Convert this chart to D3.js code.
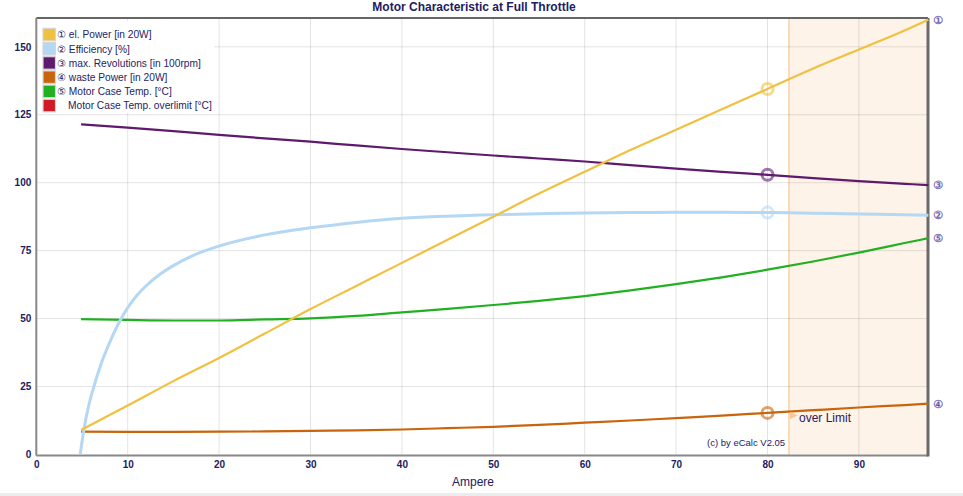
<!DOCTYPE html>
<html><head><meta charset="utf-8">
<script src="https://cdn.jsdelivr.net/npm/d3@7"></script>
<style>
html,body{margin:0;padding:0;background:#fff;}
svg{display:block;font-family:"Liberation Sans",Arial,sans-serif;}
</style></head>
<body>
<svg id="c" width="963" height="496"></svg>
<script>
// ---- data ----
const title = "Motor Characteristic at Full Throttle";
const xTicks = [0,10,20,30,40,50,60,70,80,90];
const yTicks = [0,25,50,75,100,125,150];
const amps = [4.9,10,15,20,25,30,35,40,45,50,55,60,65,70,75,80,85,90,95,97.6];
const power = [9,18,27,35.5,44.5,53.5,62,70.5,79,87.5,96,104,112,119.5,127,134.5,142,149,156,160];
const revs = [121.5,120.3,119,117.6,116.3,115.1,113.7,112.4,111.2,110,108.9,107.8,106.5,105.2,104,102.9,101.7,100.6,99.6,99.1];
const waste = [8.4,8.3,8.3,8.4,8.5,8.7,8.9,9.2,9.7,10.2,10.9,11.7,12.5,13.4,14.3,15.3,16.3,17.3,18.2,18.7];
const temp = [49.8,49.5,49.3,49.3,49.7,50.1,51,52.3,53.6,55,56.5,58.3,60.4,62.7,65.2,68,71,74.3,77.8,79.6];
const effAmps = [4.8,5.2,5.7,6.3,7,8,9.2,10,11,12,13.6,15,17.2,20,25,30,35,40,45,50,55,60,65,70,75,80,85,90,95,97.6];
const eff = [0,9,17.5,25,32.5,41,49.5,54,58.5,62,66.5,69.5,73.3,76.7,80.8,83.4,85.4,86.9,87.7,88.2,88.6,88.9,89,89.1,89.1,89,88.8,88.5,88.2,88];
const limitAmp = 82.35;
const markerAmp = 80;
const legendItems = ["① el. Power [in 20W]","② Efficiency [%]","③ max. Revolutions [in 100rpm]","④ waste Power [in 20W]","⑤ Motor Case Temp. [°C]","Motor Case Temp. overlimit [°C]"];
const legendColors = ["#f0c040","#b4d8f4","#5e1a6c","#c8640c","#22b022","#d01a24"];

// ---- setup ----
const svg = d3.select("#c");
const x = d3.scaleLinear().domain([0,97.56]).range([36.3,928]);
const y = d3.scaleLinear().domain([0,160.6]).range([454.5,18]);
const [x0,x1] = x.range(), [yb,yt] = y.range();
const navy = "#1c2060";

// bottom strip
svg.append("rect").attr("x",0).attr("y",493).attr("width",963).attr("height",3).attr("fill","#ececec");

// over limit shade
svg.append("rect").attr("x",x(limitAmp)).attr("y",yt).attr("width",x1-x(limitAmp)).attr("height",yb-yt).attr("fill","#fdf3e8");
svg.append("line").attr("x1",x(limitAmp)).attr("x2",x(limitAmp)).attr("y1",yt).attr("y2",yb).attr("stroke","#fbd0a4").attr("stroke-width",1.5);

// grid
svg.append("g").selectAll("line").data(xTicks.filter(d=>d>0)).join("line")
  .attr("x1",d=>x(d)).attr("x2",d=>x(d)).attr("y1",yt).attr("y2",yb)
  .attr("stroke","#000").attr("stroke-opacity",0.11).attr("stroke-width",1);
svg.append("g").selectAll("line").data(yTicks.filter(d=>d>0)).join("line")
  .attr("x1",x0).attr("x2",x1).attr("y1",d=>y(d)).attr("y2",d=>y(d))
  .attr("stroke","#000").attr("stroke-opacity",0.11).attr("stroke-width",1);

// legend background
svg.append("rect").attr("x",38).attr("y",21).attr("width",176).attr("height",92).attr("fill","#fff");

// axes (labels via d3 axes)
const xAxis = d3.axisBottom(x).tickValues(xTicks).tickSize(0).tickPadding(6).tickFormat(d3.format("d"));
const gx = svg.append("g").attr("transform",`translate(0,${yb})`).call(xAxis);
gx.select(".domain").remove();
gx.selectAll("text").attr("font-size",10).attr("font-weight","bold").attr("fill",navy).attr("font-family","Liberation Sans, Arial, sans-serif");
const yAxis = d3.axisLeft(y).tickValues(yTicks).tickSize(0).tickPadding(5).tickFormat(d3.format("d"));
const gy = svg.append("g").attr("transform",`translate(${x0},0)`).call(yAxis);
gy.select(".domain").remove();
gy.selectAll("text").attr("font-size",10).attr("font-weight","bold").attr("fill",navy).attr("font-family","Liberation Sans, Arial, sans-serif");

// frame
svg.append("line").attr("x1",x0).attr("x2",x1).attr("y1",yt).attr("y2",yt).attr("stroke","#666").attr("stroke-width",2);
svg.append("line").attr("x1",x0).attr("x2",x0).attr("y1",yt).attr("y2",yb+1).attr("stroke","#888").attr("stroke-width",2);
svg.append("line").attr("x1",x0).attr("x2",x1).attr("y1",yb+1).attr("y2",yb+1).attr("stroke","#888").attr("stroke-width",2);
svg.append("line").attr("x1",x1).attr("x2",x1).attr("y1",yt).attr("y2",yb+2).attr("stroke","#6a6a6a").attr("stroke-width",3);

// series
const line = d3.line().curve(d3.curveMonotoneX).x(d=>x(d[0])).y(d=>y(d[1]));
const series = [
  {xs:amps, ys:waste, c:"#c8640c", w:2.2},
  {xs:amps, ys:temp, c:"#22b022", w:2.2},
  {xs:effAmps, ys:eff, c:"#b4d8f4", w:3},
  {xs:amps, ys:revs, c:"#5e1a6c", w:2.2},
  {xs:amps, ys:power, c:"#f0c040", w:2.2}
];
series.forEach(s=>{
  svg.append("path").datum(s.xs.map((a,i)=>[a,s.ys[i]]))
    .attr("d",line).attr("fill","none").attr("stroke",s.c).attr("stroke-width",s.w).attr("stroke-linejoin","round");
});

// markers at 80 A
const mi = amps.indexOf(markerAmp);
const ei = effAmps.indexOf(markerAmp);
const markers = [
  {v:power[mi], c:"#f0c040"},
  {v:revs[mi], c:"#5e1a6c"},
  {v:eff[ei], c:"#b4d8f4"},
  {v:waste[mi], c:"#c8640c"}
];
svg.append("g").selectAll("circle").data(markers).join("circle")
  .attr("cx",x(markerAmp)).attr("cy",d=>y(d.v)).attr("r",5.5)
  .attr("fill","none").attr("stroke",d=>d.c).attr("stroke-opacity",0.6).attr("stroke-width",3);

// right-side circled labels
const ends = [
  {t:"①", v:power[power.length-1]},
  {t:"③", v:revs[revs.length-1]},
  {t:"②", v:eff[eff.length-1]},
  {t:"⑤", v:temp[temp.length-1]},
  {t:"④", v:waste[waste.length-1]}
];
svg.append("g").selectAll("text").data(ends).join("text")
  .attr("x",x1+10).attr("y",d=>y(d.v)+4).attr("text-anchor","middle")
  .attr("font-size",11).attr("font-family","DejaVu Sans, sans-serif").attr("fill","#3a2e80")
  .attr("stroke","#8a80c8").attr("stroke-width",0.4).text(d=>d.t);

// over limit label
const ol = svg.append("g");
ol.append("path").attr("d",`M${x(limitAmp)+1},${y(waste[mi])-1} l8,3.5 l-8,3.5 z`).attr("fill","#fbc890");
ol.append("text").attr("x",x(limitAmp)+10).attr("y",y(waste[mi])+9).attr("font-size",12).attr("fill","#2a2060").text("over Limit");

// copyright
svg.append("text").attr("x",707).attr("y",446).attr("font-size",9.5).attr("fill",navy).text("(c) by eCalc  V2.05");

// title and x axis title
svg.append("text").attr("x",474).attr("y",11).attr("text-anchor","middle").attr("font-size",12).attr("font-weight","bold").attr("fill",navy).text(title);
svg.append("text").attr("x",473).attr("y",486).attr("text-anchor","middle").attr("font-size",12).attr("fill",navy).text("Ampere");

// legend
const lg = svg.append("g");
legendItems.forEach((t,i)=>{
  const yy = 28.3 + i*14.2;
  lg.append("rect").attr("x",43).attr("y",yy).attr("width",12.5).attr("height",12.5).attr("fill",legendColors[i]).attr("stroke","#d6d6d6").attr("stroke-width",1.2);
  lg.append("text").attr("x", i===5 ? 68 : 57).attr("y",yy+10).attr("font-size",10.2).attr("fill","#242466").text(t);
});
</script>
</body></html>
